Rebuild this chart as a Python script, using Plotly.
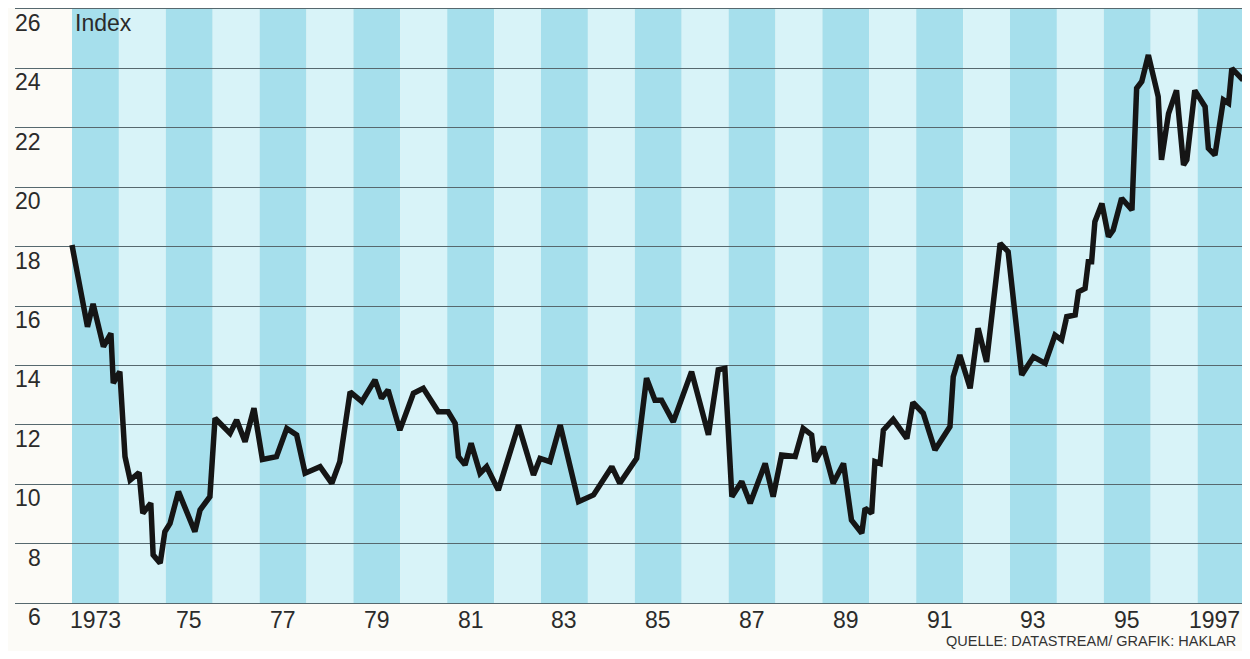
import plotly.graph_objects as go

# ---- data ----
years = [1973.00, 1973.33, 1973.45, 1973.67, 1973.83, 1973.88, 1974.02, 1974.13, 1974.24, 1974.43,
         1974.51, 1974.68, 1974.73, 1974.88, 1974.98, 1975.09, 1975.27, 1975.62, 1975.73, 1975.94,
         1976.05, 1976.37, 1976.51, 1976.69, 1976.88, 1977.06, 1977.36, 1977.58, 1977.79, 1977.97,
         1978.29, 1978.54, 1978.71, 1978.93, 1979.18, 1979.46, 1979.60, 1979.74, 1979.99, 1980.28,
         1980.49, 1980.81, 1981.02, 1981.17, 1981.24, 1981.38, 1981.51, 1981.70, 1981.84, 1982.09,
         1982.52, 1982.84, 1982.98, 1983.19, 1983.41, 1983.80, 1984.12, 1984.51, 1984.68, 1985.04,
         1985.25, 1985.43, 1985.57, 1985.82, 1986.21, 1986.57, 1986.78, 1986.92, 1987.07, 1987.28,
         1987.46, 1987.78, 1987.95, 1988.13, 1988.42, 1988.59, 1988.77, 1988.84, 1989.02, 1989.23,
         1989.45, 1989.62, 1989.84, 1989.91, 1990.05, 1990.12, 1990.23, 1990.30, 1990.51, 1990.80,
         1990.93, 1991.15, 1991.40, 1991.72, 1991.79, 1991.93, 1992.15, 1992.32, 1992.50, 1992.79,
         1992.96, 1993.14, 1993.25, 1993.50, 1993.75, 1993.96, 1994.10, 1994.21, 1994.39, 1994.46,
         1994.60, 1994.67, 1994.74, 1994.81, 1994.96, 1995.10, 1995.20, 1995.38, 1995.60, 1995.70,
         1995.81, 1995.95, 1996.16, 1996.23, 1996.38, 1996.55, 1996.70, 1996.77, 1996.94, 1997.16,
         1997.23, 1997.37, 1997.55, 1997.66, 1997.73, 1997.97]

index_values = [18.05, 15.30, 16.07, 14.63, 15.08, 13.40, 13.79, 10.93, 10.14, 10.39,
                9.02, 9.36, 7.62, 7.34, 8.40, 8.68, 9.75, 8.40, 9.13, 9.58,
                12.22, 11.71, 12.16, 11.43, 12.56, 10.83, 10.93, 11.88, 11.66, 10.37,
                10.59, 10.03, 10.76, 13.11, 12.78, 13.51, 12.89, 13.17, 11.82, 13.06,
                13.23, 12.44, 12.44, 12.05, 10.93, 10.65, 11.38, 10.37, 10.59, 9.80,
                11.99, 10.31, 10.87, 10.76, 11.99, 9.41, 9.64, 10.59, 10.03, 10.87,
                13.57, 12.83, 12.83, 12.10, 13.79, 11.66, 13.85, 13.90, 9.58, 10.09,
                9.36, 10.70, 9.58, 10.98, 10.93, 11.88, 11.66, 10.76, 11.26, 10.03,
                10.70, 8.79, 8.35, 9.19, 9.02, 10.76, 10.70, 11.82, 12.18, 11.54,
                12.75, 12.39, 11.15, 11.94, 13.62, 14.35, 13.23, 15.25, 14.12, 18.11,
                17.83, 15.19, 13.68, 14.29, 14.07, 15.02, 14.86, 15.64, 15.70, 16.48,
                16.59, 17.49, 17.49, 18.84, 19.45, 18.33, 18.56, 19.63, 19.23, 23.33,
                23.56, 24.45, 23.05, 20.92, 22.48, 23.26, 20.75, 20.92, 23.26, 22.71,
                21.31, 21.08, 22.94, 22.83, 24.00, 23.61]

band_years = list(range(1973, 1998))
x_tick_years = [1973, 1975, 1977, 1979, 1981, 1983, 1985, 1987, 1989, 1991, 1993, 1995, 1997]
x_tick_labels = ["1973", "75", "77", "79", "81", "83", "85", "87", "89", "91", "93", "95", "1997"]
y_ticks = [6, 8, 10, 12, 14, 16, 18, 20, 22, 24, 26]
y_tick_labels = ["6", "8", "10", "12", "14", "16", "18", "20", "22", "24", "26"]

# ---- styling ----
PAPER = "#fcfbf7"
DARK_BAND = "#a6dfec"
LIGHT_BAND = "#d8f3f8"
GRID = "#56686e"
TEXT = "#2b2b2b"
FONT = "Liberation Sans, Arial, sans-serif"
PX_PER_YEAR = 46.9

fig = go.Figure()

fig.add_trace(go.Scatter(
    x=years, y=index_values, mode="lines",
    line=dict(color="#151515", width=5.5),
    hoverinfo="skip", showlegend=False,
))

shapes = []
for yr in band_years:
    shapes.append(dict(
        type="rect", xref="x", yref="paper", x0=yr, x1=yr + 1, y0=0, y1=1,
        fillcolor=DARK_BAND if yr % 2 == 1 else LIGHT_BAND,
        line=dict(width=0), layer="below",
    ))

annotations = []
label_x = 1973 - 29 / PX_PER_YEAR
for v, t in zip(y_ticks, y_tick_labels):
    annotations.append(dict(
        x=label_x, y=v, xref="x", yref="y", text=t, showarrow=False,
        xanchor="right", yanchor="middle", yshift=-14,
        font=dict(family=FONT, size=23, color=TEXT),
    ))
for yr, t in zip(x_tick_years, x_tick_labels):
    annotations.append(dict(
        x=yr + 0.5, y=6, xref="x", yref="y", text=t,
        showarrow=False, xanchor="center", yanchor="middle", yshift=-17,
        xshift=-7 if yr == 1997 else 0,
        font=dict(family=FONT, size=23, color=TEXT),
    ))
annotations.append(dict(
    x=1973.02, y=26, xref="x", yref="y", text="Index", showarrow=False,
    xanchor="left", yanchor="middle", yshift=-14,
    font=dict(family=FONT, size=23, color=TEXT),
))
annotations.append(dict(
    x=1, y=0, xref="paper", yref="paper", text="QUELLE: DATASTREAM/ GRAFIK: HAKLAR",
    showarrow=False, xanchor="right", yanchor="middle", yshift=-38, xshift=-4,
    font=dict(family=FONT, size=14.5, color="#333333"),
))

# the page adds an 8px body margin, so the figure is sized/offset to compensate
fig.update_layout(
    width=1234, height=643,
    margin=dict(l=7, r=0, t=1, b=48),
    paper_bgcolor=PAPER, plot_bgcolor=PAPER,
    shapes=shapes, annotations=annotations,
    xaxis=dict(
        range=[1973 - 57 / PX_PER_YEAR, 1973 + 1170 / PX_PER_YEAR],
        showticklabels=False,
        showgrid=False, zeroline=False, ticks="",
        showline=True, mirror=True, linecolor=GRID, linewidth=1.4,
    ),
    yaxis=dict(
        range=[6, 26], tickvals=y_ticks, showticklabels=False,
        showgrid=True, gridcolor=GRID, gridwidth=1.4, zeroline=False,
        showline=False, ticks="",
    ),
)

fig.write_html("out.html")
